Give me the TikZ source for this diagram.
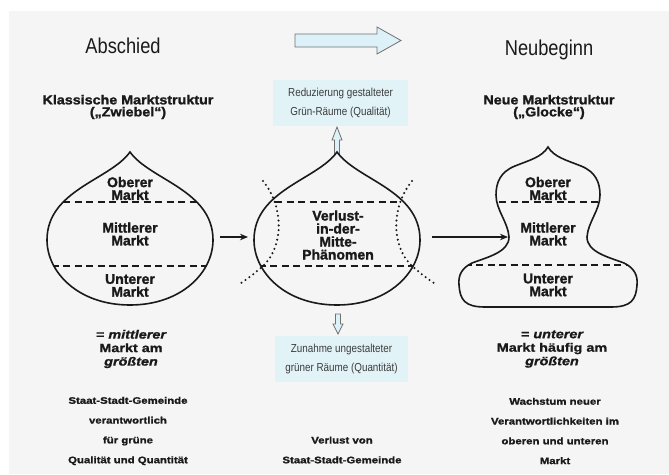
\documentclass[tikz,border=0pt]{standalone}
\usepackage{fontspec}
\setmainfont{Liberation Sans}
\newfontfamily\narf[FakeStretch=0.85]{Liberation Sans}
\newfontfamily\segf[BoldFeatures={FakeBold=1.5}]{Liberation Sans}
\newfontfamily\hdf[FakeStretch=1.1, BoldFeatures={FakeBold=1.5}]{Liberation Sans}
\newfontfamily\widf[FakeStretch=1.2, BoldFeatures={FakeBold=1.3}, BoldItalicFeatures={FakeBold=1.3}]{Liberation Sans}
\usetikzlibrary{arrows.meta}
\definecolor{bg}{HTML}{F5F5F5}
\definecolor{boxblue}{HTML}{E2F3F8}
\definecolor{arrblue}{HTML}{DDF1F8}
\definecolor{arrgray}{HTML}{707070}
\definecolor{ink}{HTML}{1A1A1A}
\begin{document}
\begin{tikzpicture}[x=1pt,y=-1pt,
  title/.style={font=\narf\fontsize{21.5}{24}\selectfont, text=ink, inner sep=0},
  head/.style={font=\hdf\bfseries\fontsize{13}{12}\selectfont, align=center, inner sep=0, text=ink},
  seg/.style={font=\segf\bfseries\fontsize{14}{12.8}\selectfont, align=center, inner sep=0, text=ink},
  sub/.style={font=\widf\bfseries\fontsize{12}{13.5}\selectfont, align=center, inner sep=0, text=ink},
  small/.style={font=\widf\bfseries\fontsize{9.5}{19.8}\selectfont, align=center, inner sep=0, text=ink},
  bluebox/.style={fill=boxblue, font=\narf\fontsize{11.6}{19}\selectfont, align=center, inner sep=0, text=ink!85},
  outline/.style={line width=1.6pt, draw=ink},
  divider/.style={line width=1.4pt, dash pattern=on 7pt off 4.5pt, draw=ink},
  dots/.style={line width=2.3pt, dash pattern=on 0pt off 4.8pt, line cap=round, draw=ink},
  hollow/.style={draw=arrgray, fill=arrblue, line width=0.8pt},
  link/.style={line width=1.2pt, draw=ink, -{Stealth[length=8pt,width=6.5pt]}},
  onion/.style={insert path={(0,152) .. controls (20,180) and (83,190) .. (83,240)
     .. controls (83,272) and (52,305) .. (0,305)
     .. controls (-52,305) and (-83,272) .. (-83,240)
     .. controls (-83,190) and (-20,180) .. (0,152) -- cycle}},
  bell/.style={insert path={(0,147) .. controls (6,157) and (18,160) .. (33,166)
     .. controls (48,172) and (52,183) .. (52,195)
     .. controls (52,210) and (40,222) .. (39,237)
     .. controls (39,252) and (60,257) .. (76,263)
     .. controls (86,268) and (90,275) .. (89,285)
     .. controls (88,300) and (83,307) .. (63,307) -- (-63,307)
     .. controls (-83,307) and (-88,300) .. (-89,285)
     .. controls (-90,275) and (-86,268) .. (-76,263)
     .. controls (-60,257) and (-39,252) .. (-39,237)
     .. controls (-40,222) and (-52,210) .. (-52,195)
     .. controls (-52,183) and (-48,172) .. (-33,166)
     .. controls (-18,160) and (-6,157) .. (0,147) -- cycle}}
]
\useasboundingbox (0,0) rectangle (669,474);
\fill[bg] (9,11) rectangle (669,474);

% titles
\node[title, anchor=base] (abschied) at (123,53) {Abschied};
\node[title, anchor=base] (neubeginn) at (549,55) {Neubeginn};
\draw[hollow] (295,34) -- (377,34) -- (377,27) -- (401,40.5) -- (377,54) -- (377,47) -- (295,47) -- cycle;

% headers
\node[head] (hleft) at (128,107) {Klassische Marktstruktur\\(„Zwiebel“)};
\node[head] (hright) at (549,107) {Neue Marktstruktur\\(„Glocke“)};

% blue boxes
\node[bluebox, minimum width=135pt, minimum height=46pt] (topbox) at (340.5,103) {Reduzierung gestalteter\\Grün-Räume (Qualität)};
\node[bluebox, minimum width=133pt, minimum height=46pt] (botbox) at (341.5,359) {Zunahme ungestalteter\\grüner Räume (Quantität)};

% hollow up/down arrows
\draw[hollow] (334.5,155) -- (334.5,140) -- (332,140) -- (337,127) -- (342,140) -- (339.5,140) -- (339.5,155) -- cycle;
\draw[hollow] (335.5,314) -- (335.5,324) -- (333,324) -- (338,334) -- (343,324) -- (340.5,324) -- (340.5,314) -- cycle;

% left onion
\begin{scope}[shift={(130,0)}]
  \fill[bg, onion];
  \begin{scope}
    \path[clip, onion];
    \draw[divider] (-90,202) -- (90,202);
    \draw[divider] (-90,266) -- (90,266);
  \end{scope}
  \draw[outline, onion];
\end{scope}
\node[seg] (lo) at (130,188.5) {Oberer\\Markt};
\node[seg] (lm) at (130,234) {Mittlerer\\Markt};
\node[seg] (lu) at (130,285.5) {Unterer\\Markt};

% middle onion
\begin{scope}[shift={(337,0)}]
  \fill[bg, onion];
  \begin{scope}
    \path[clip, onion];
    \draw[divider] (-62,202) -- (61,202);
    \draw[divider] (-90,266) -- (90,266);
  \end{scope}
  \draw[outline, onion];
\end{scope}
\draw[dots] (263,181) .. controls (283,205) and (285,245) .. (263,266) .. controls (256,272) and (249,278) .. (241,283);
\draw[dots] (412,181) .. controls (392,205) and (390,245) .. (412,266) .. controls (419,272) and (426,278) .. (434,283);
\node[seg, font=\segf\bfseries\fontsize{14}{13}\selectfont] (mv) at (338,235) {Verlust-\\in-der-\\Mitte-\\Phänomen};

% bell
\begin{scope}[shift={(548,0)}]
  \fill[bg, bell];
  \begin{scope}
    \path[clip, bell];
    \draw[divider] (-95,202) -- (95,202);
    \draw[divider] (-95,265) -- (95,265);
  \end{scope}
  \draw[outline, bell];
\end{scope}
\node[seg] (ro) at (548,188.5) {Oberer\\Markt};
\node[seg] (rm) at (548,234) {Mittlerer\\Markt};
\node[seg] (ru) at (548,285) {Unterer\\Markt};

% connectors between shapes
\coordinate (a1s) at (220,237);
\coordinate (a1e) at (248,237);
\coordinate (a2s) at (432,237);
\coordinate (a2e) at (508,237);
\draw[link] (a1s) -- (a1e);
\draw[link] (a2s) -- (a2e);

% bottom headings
\node[sub] (sl) at (131,349) {= \itshape mittlerer\\Markt am\\\itshape größten};
\node[sub] (sr) at (552,349) {= \itshape unterer\\Markt häufig am\\\itshape größten};

% bottom notes
\node[small] (nl) at (128,431) {Staat-Stadt-Gemeinde\\verantwortlich\\für grüne\\Qualität und Quantität};
\node[small] (nm) at (342,450) {Verlust von\\Staat-Stadt-Gemeinde};
\node[small] (nr) at (555,431) {Wachstum neuer\\Verantwortlichkeiten im\\oberen und unteren\\Markt};
\end{tikzpicture}
\end{document}
